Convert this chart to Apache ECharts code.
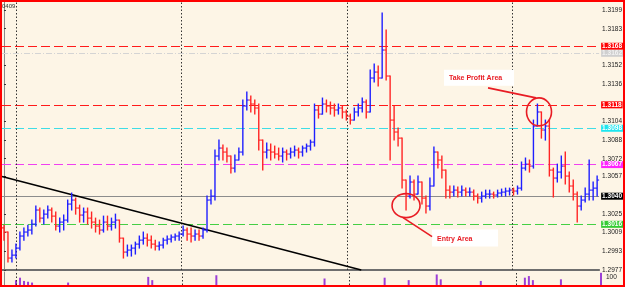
<!DOCTYPE html>
<html><head><meta charset="utf-8">
<script src="https://cdn.jsdelivr.net/npm/echarts@6/dist/echarts.min.js"></script>
<style>html,body{margin:0;padding:0;background:#fdf5e6}#c{width:625px;height:287px}</style>
</head><body><div id="c"></div><script>
// ---- DATA (prices) ----
const firstOpen = 1.30130;
const closes = [
1.30094,1.29872,1.29897,1.29957,1.30060,1.30094,1.30111,1.30162,1.30282,1.30213,
1.30247,1.30282,1.30230,1.30145,1.30179,1.30196,1.30333,1.30367,1.30299,1.30239,
1.30265,1.30213,1.30179,1.30145,1.30111,1.30179,1.30145,1.30179,1.30196,1.30042,
1.29923,1.29940,1.29957,1.29991,1.30025,1.30042,1.30025,1.29991,1.29974,1.29983,
1.30025,1.30034,1.30051,1.30060,1.30077,1.30111,1.30077,1.30060,1.30077,1.30060,
1.30111,1.30367,1.30401,1.30743,1.30811,1.30777,1.30743,1.30640,1.30709,1.30777,
1.31170,1.31221,1.31187,1.31153,1.30879,1.30777,1.30794,1.30777,1.30760,1.30743,
1.30777,1.30760,1.30777,1.30794,1.30777,1.30811,1.30828,1.30862,1.31136,1.31101,
1.31187,1.31170,1.31153,1.31136,1.31153,1.31119,1.31084,1.31050,1.31119,1.31153,
1.31204,1.31119,1.31409,1.31460,1.31409,1.31648,1.31426,1.31050,1.30948,1.30896,
1.30538,1.30401,1.30521,1.30418,1.30521,1.30384,1.30316,1.30487,1.30777,1.30709,
1.30623,1.30452,1.30435,1.30452,1.30435,1.30452,1.30435,1.30435,1.30401,1.30384,
1.30401,1.30418,1.30418,1.30410,1.30427,1.30435,1.30444,1.30452,1.30444,1.30469,
1.30640,1.30674,1.30657,1.30999,1.31119,1.30965,1.30999,1.30623,1.30555,1.30606,
1.30657,1.30572,1.30487,1.30418,1.30316,1.30367,1.30418,1.30452,1.30469,1.30538];
const highs = [
1.30153,1.30094,1.29940,1.29991,1.30094,1.30128,1.30153,1.30196,1.30316,1.30299,
1.30282,1.30316,1.30299,1.30265,1.30213,1.30239,1.30367,1.30427,1.30384,1.30324,
1.30299,1.30299,1.30265,1.30213,1.30196,1.30230,1.30230,1.30213,1.30247,1.30196,
1.30042,1.29983,1.29983,1.30008,1.30060,1.30094,1.30077,1.30060,1.30025,1.30008,
1.30042,1.30060,1.30068,1.30077,1.30094,1.30145,1.30128,1.30128,1.30111,1.30111,
1.30128,1.30401,1.30452,1.30794,1.30879,1.30837,1.30811,1.30743,1.30751,1.30811,
1.31221,1.31289,1.31255,1.31221,1.31187,1.30879,1.30854,1.30845,1.30828,1.30811,
1.30811,1.30794,1.30811,1.30828,1.30811,1.30828,1.30845,1.30879,1.31187,1.31170,
1.31238,1.31221,1.31204,1.31187,1.31187,1.31170,1.31136,1.31101,1.31153,1.31187,
1.31238,1.31221,1.31477,1.31528,1.31511,1.31964,1.31819,1.31221,1.31170,1.30982,
1.30794,1.30487,1.30572,1.30538,1.30572,1.30521,1.30401,1.30555,1.30820,1.30777,
1.30743,1.30589,1.30487,1.30487,1.30478,1.30487,1.30469,1.30469,1.30452,1.30418,
1.30435,1.30452,1.30452,1.30435,1.30452,1.30461,1.30469,1.30469,1.30469,1.30487,
1.30692,1.30726,1.30709,1.31050,1.31187,1.31119,1.31050,1.31050,1.30640,1.30674,
1.30743,1.30777,1.30606,1.30538,1.30435,1.30401,1.30469,1.30709,1.30521,1.30572];
const lows = [
1.30025,1.29838,1.29838,1.29872,1.29940,1.30025,1.30060,1.30077,1.30145,1.30179,
1.30162,1.30213,1.30179,1.30111,1.30094,1.30111,1.30179,1.30282,1.30247,1.30179,
1.30179,1.30162,1.30128,1.30094,1.30077,1.30094,1.30111,1.30111,1.30128,1.30008,
1.29872,1.29889,1.29889,1.29906,1.29957,1.29991,1.29974,1.29957,1.29940,1.29940,
1.29957,1.29991,1.30008,1.30025,1.30025,1.30060,1.30025,1.30008,1.30025,1.30025,
1.30042,1.30094,1.30333,1.30367,1.30709,1.30709,1.30692,1.30598,1.30606,1.30709,
1.30751,1.31136,1.31119,1.31101,1.30794,1.30623,1.30726,1.30709,1.30726,1.30709,
1.30692,1.30709,1.30726,1.30743,1.30726,1.30743,1.30777,1.30794,1.30828,1.31067,
1.31101,1.31119,1.31101,1.31084,1.31101,1.31067,1.31050,1.31016,1.31050,1.31084,
1.31119,1.31067,1.31119,1.31375,1.31341,1.31409,1.31392,1.30709,1.30879,1.30828,
1.30469,1.30282,1.30384,1.30367,1.30418,1.30333,1.30256,1.30282,1.30504,1.30640,
1.30555,1.30384,1.30384,1.30401,1.30393,1.30401,1.30401,1.30401,1.30367,1.30341,
1.30350,1.30384,1.30384,1.30384,1.30393,1.30401,1.30401,1.30410,1.30410,1.30418,
1.30452,1.30623,1.30606,1.30640,1.31016,1.30896,1.30879,1.30572,1.30393,1.30521,
1.30555,1.30504,1.30435,1.30367,1.30179,1.30282,1.30350,1.30367,1.30367,1.30401];
const indicator = [
0,0,0,60,90,50,40,30,0,0, 0,0,0,0,0,0,30,0,0,0, 0,0,0,0,0,0,0,0,0,0,
0,0,0,0,0,0,100,60,0,0, 0,0,0,0,0,0,0,0,0,0, 0,0,0,120,0,0,0,0,0,0,
0,0,0,0,0,0,0,0,0,0, 0,0,0,0,0,0,0,0,0,0, 80,0,0,0,0,0,0,0,0,0,
0,0,0,0,0,90,0,0,0,0, 0,60,0,0,0,0,0,0,130,70, 0,0,0,0,0,0,0,0,0,50,
0,0,0,0,0,0,0,0,0,0, 90,110,60,0,0,0,0,0,0,70, 0,0,0,0,0,0,0,0,0,150];
const priceTicks = [1.3199,1.3183,1.3152,1.3136,1.3104,1.3088,1.3072,1.3057,1.3025,1.3009,1.2993,1.2977];
const levelValues = [1.3168,1.3162,1.3118,1.3098,1.3067,1.3040,1.3016];
const levelLabels = ['1.3168','1.3162','1.3118','1.3098','1.3067','1.3040','1.3016'];
const daySeparators = [3, 44.5, 86.25, 127.75];
const trendStart = [-0.5, 1.30568];
const trendEnd = [89.75, 1.2977];
const takeProfitAnchor = [134.4, 1.3112];
const entryAnchor = [101, 1.3032];

// ---- styles ----
const levelStyles = [
  {line:'#ff1a1a', type:[9,4], bg:'#ff0000', fg:'#ffffff'},
  {line:'#d4d4d4', type:[6,2,1,2], bg:'#cfcfcf', fg:'#f2f2f2'},
  {line:'#ff1a1a', type:[9,4], bg:'#ff0000', fg:'#ffffff'},
  {line:'#3fdde6', type:[9,4], bg:'#1ee6f0', fg:'#ffffff'},
  {line:'#f040f0', type:[9,4], bg:'#ff22ff', fg:'#ffffff'},
  {line:'#8c8c8c', type:'solid', bg:'#000000', fg:'#ffffff'},
  {line:'#44d044', type:[9,4], bg:'#33cc33', fg:'#ffffff'}
];
const UP = '#1f1fff', DOWN = '#ff2424';
const FONT = 'Liberation Sans, Arial, sans-serif';

const barData = closes.map((c,i)=>[i, i===0?firstOpen:closes[i-1], c, lows[i], highs[i]]);

function renderBar(params, api){
  const x=api.value(0), o=api.value(1), c=api.value(2);
  const l=Math.min(api.value(3),o,c), h=Math.max(api.value(4),o,c);
  const pL=api.coord([x,l]), pH=api.coord([x,h]), pO=api.coord([x,o]), pC=api.coord([x,c]);
  const w=api.size([1,0])[0];
  const col = c>=o?UP:DOWN;
  return {type:'group', children:[
    {type:'line', shape:{x1:pL[0],y1:pL[1]+0.5,x2:pH[0],y2:pH[1]-0.5}, style:{stroke:col,lineWidth:1.4}},
    {type:'line', shape:{x1:pO[0]-w*0.5,y1:pO[1],x2:pO[0],y2:pO[1]}, style:{stroke:col,lineWidth:1.1}},
    {type:'line', shape:{x1:pC[0],y1:pC[1],x2:pC[0]+w*0.5,y2:pC[1]}, style:{stroke:col,lineWidth:1.1}}
  ]};
}

const levelLines = levelValues.map((v,k)=>({
  yAxis:v,
  lineStyle:{color:levelStyles[k].line, type:levelStyles[k].type, width:1.2},
  label:{show:true, position:'end', distance:2, formatter:levelLabels[k],
    backgroundColor:levelStyles[k].bg, color:levelStyles[k].fg, fontSize:6.5,
    fontFamily:FONT, fontWeight:'bold', padding:[0,1,0,1], lineHeight:7}
}));
const sepLines = daySeparators.map(v=>({xAxis:v, lineStyle:{color:'#333', type:[1.5,2], width:1}, label:{show:false}}));

const chart = echarts.init(document.getElementById('c'), null, {renderer:'canvas'});
chart.setOption({
  backgroundColor:'#fdf5e6',
  animation:false,
  grid:[{left:2,right:22,top:2,bottom:17},{left:2,right:22,top:272,bottom:2}],
  xAxis:[
    {type:'value',gridIndex:0,min:-0.5,max:149.5,axisLine:{show:true,onZero:false,lineStyle:{color:'#6e6e6e',width:2}},axisTick:{show:false},axisLabel:{show:false},splitLine:{show:false}},
    {type:'value',gridIndex:1,min:-0.5,max:149.5,axisLine:{show:false},axisTick:{show:false},axisLabel:{show:false},splitLine:{show:false}}
  ],
  yAxis:[
    {type:'value',gridIndex:0,position:'right',min:1.2977,max:1.32058,
     axisLine:{show:true,lineStyle:{color:'#8a8a8a',width:1}},
     axisTick:{show:true,customValues:priceTicks,length:2,lineStyle:{color:'#333'}},
     axisLabel:{show:true,customValues:priceTicks,formatter:v=>v.toFixed(4),fontSize:6.5,color:'#1a1a1a',margin:3,fontFamily:FONT},
     splitLine:{show:false}},
    {type:'value',gridIndex:1,position:'right',min:0,max:160,
     axisLine:{show:true,lineStyle:{color:'#8a8a8a',width:1}},
     axisTick:{show:false},
     axisLabel:{show:true,customValues:[100],fontSize:6.5,color:'#1a1a1a',margin:3,fontFamily:FONT},
     splitLine:{show:false}}
  ],
  series:[
    {type:'line',xAxisIndex:0,yAxisIndex:0,data:barData.map(d=>[d[0],d[2]]),showSymbol:false,symbol:'none',
     lineStyle:{opacity:0},silent:true,z:1,
     markLine:{silent:true,symbol:['none','none'],animation:false,precision:6,
       data:[...levelLines, ...sepLines,
         [{coord:trendStart,lineStyle:{color:'#000',width:1.6,type:'solid'},label:{show:false}},{coord:trendEnd}]]}},
    {type:'custom',xAxisIndex:0,yAxisIndex:0,renderItem:renderBar,data:barData,clip:true,z:5},
    {type:'bar',xAxisIndex:1,yAxisIndex:1,data:indicator.map((v,i)=>[i,v]),barWidth:2,itemStyle:{color:'#9b3fd6'},
     markLine:{silent:true,symbol:['none','none'],animation:false,precision:6,data:sepLines}}
  ]
});

const tp = chart.convertToPixel({xAxisIndex:0,yAxisIndex:0}, takeProfitAnchor);
const en = chart.convertToPixel({xAxisIndex:0,yAxisIndex:0}, entryAnchor);
const annRed = '#e81c24';
const annFont = 'bold 7px "Liberation Sans", Arial, sans-serif';
chart.setOption({graphic:[
  {type:'rect',z:100,shape:{x:tp[0]-95,y:tp[1]-42,width:70,height:16},style:{fill:'#ffffff'}},
  {type:'text',z:101,x:tp[0]-90,y:tp[1]-34,style:{text:'Take Profit Area',fill:annRed,font:annFont,verticalAlign:'middle'}},
  {type:'line',z:101,shape:{x1:tp[0]-51,y1:tp[1]-24,x2:tp[0]-3,y2:tp[1]-14},style:{stroke:annRed,lineWidth:1.6}},
  {type:'ellipse',z:101,shape:{cx:tp[0],cy:tp[1],rx:12.5,ry:14},style:{fill:'none',stroke:annRed,lineWidth:1.6}},
  {type:'rect',z:100,shape:{x:en[0]+26,y:en[1]+24,width:66,height:17},style:{fill:'#ffffff'}},
  {type:'text',z:101,x:en[0]+31,y:en[1]+33,style:{text:'Entry Area',fill:annRed,font:annFont,verticalAlign:'middle'}},
  {type:'line',z:101,shape:{x1:en[0]-3,y1:en[1]+12,x2:en[0]+26,y2:en[1]+31},style:{stroke:annRed,lineWidth:1.6}},
  {type:'ellipse',z:101,shape:{cx:en[0],cy:en[1],rx:14,ry:12},style:{fill:'none',stroke:annRed,lineWidth:1.6}},
  {type:'text',z:101,x:2,y:3,style:{text:'0409',fill:'#333',font:'6px "Liberation Sans", Arial, sans-serif'}},
  {type:'rect',z:200,shape:{x:1,y:1,width:623,height:285},style:{fill:'none',stroke:'#ff0000',lineWidth:2}}
]});
</script></body></html>
